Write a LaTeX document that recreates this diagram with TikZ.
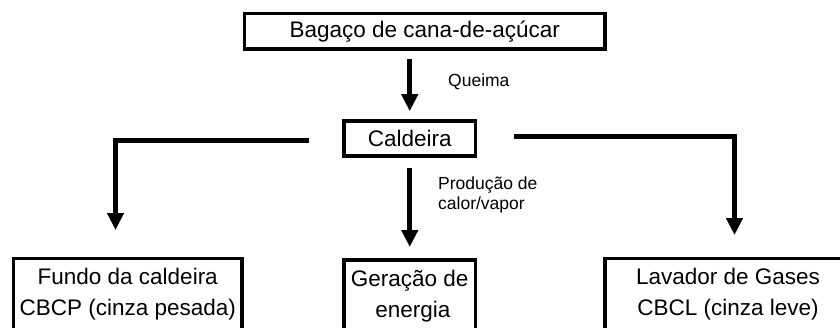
\documentclass[tikz,border=0pt]{standalone}
\usepackage{fontspec}
\setmainfont{Liberation Sans}
\usetikzlibrary{arrows.meta,calc}
\begin{document}
\begin{tikzpicture}[x=1pt,y=-1pt,
  box/.style={draw=black,line width=3.6pt,inner sep=0pt,align=center,
    font=\fontsize{22.5}{31}\selectfont},
  conn/.style={line width=5pt,-{Triangle[length=17pt,width=16pt]}},
  lbl/.style={inner sep=0pt,align=left,font=\fontsize{17.5}{20}\selectfont}]
\useasboundingbox (0,0) rectangle (840,327);
\clip (0,0) rectangle (840,327);
\node[box,minimum width=360.5pt,minimum height=35.5pt] (top) at (424.75,31.25) {Bagaço de cana-de-açúcar};
\node[box,minimum width=131.5pt,minimum height=35pt] (cald) at (409.75,138.5) {Caldeira};
\node[box,anchor=north,minimum width=228.5pt,minimum height=72pt] (fundo) at (127.75,256.5) {Fundo da caldeira\\CBCP (cinza pesada)};
\node[box,anchor=north,minimum width=131.5pt,minimum height=72pt] (ger) at (409.75,258) {Geração de\\\ energia};
\node[box,anchor=north,minimum width=246pt,minimum height=72pt] (lav) at (728,256.5) {Lavador de Gases\\CBCL (cinza leve)};
\draw[conn] ($(top.south -| cald.north)+(0,8)$) -- ($(cald.north)+(0,-8)$);
\draw[conn] ($(cald.south)+(0,10)$) -- ($(ger.north)+(0,-11)$);
\draw[conn] ($(cald.west)+(-33,1.5)$) -| ($(fundo.north)+(-12.25,-26.5)$);
\draw[conn] ($(cald.east)+(36.5,-2)$) -| ($(lav.north)+(6.5,-21.5)$);
\node[lbl,anchor=west] (queima) at (448,82) {Queima};
\node[lbl,anchor=west] (prod) at (438,195) {Produção de\\calor/vapor};
\end{tikzpicture}
\end{document}
